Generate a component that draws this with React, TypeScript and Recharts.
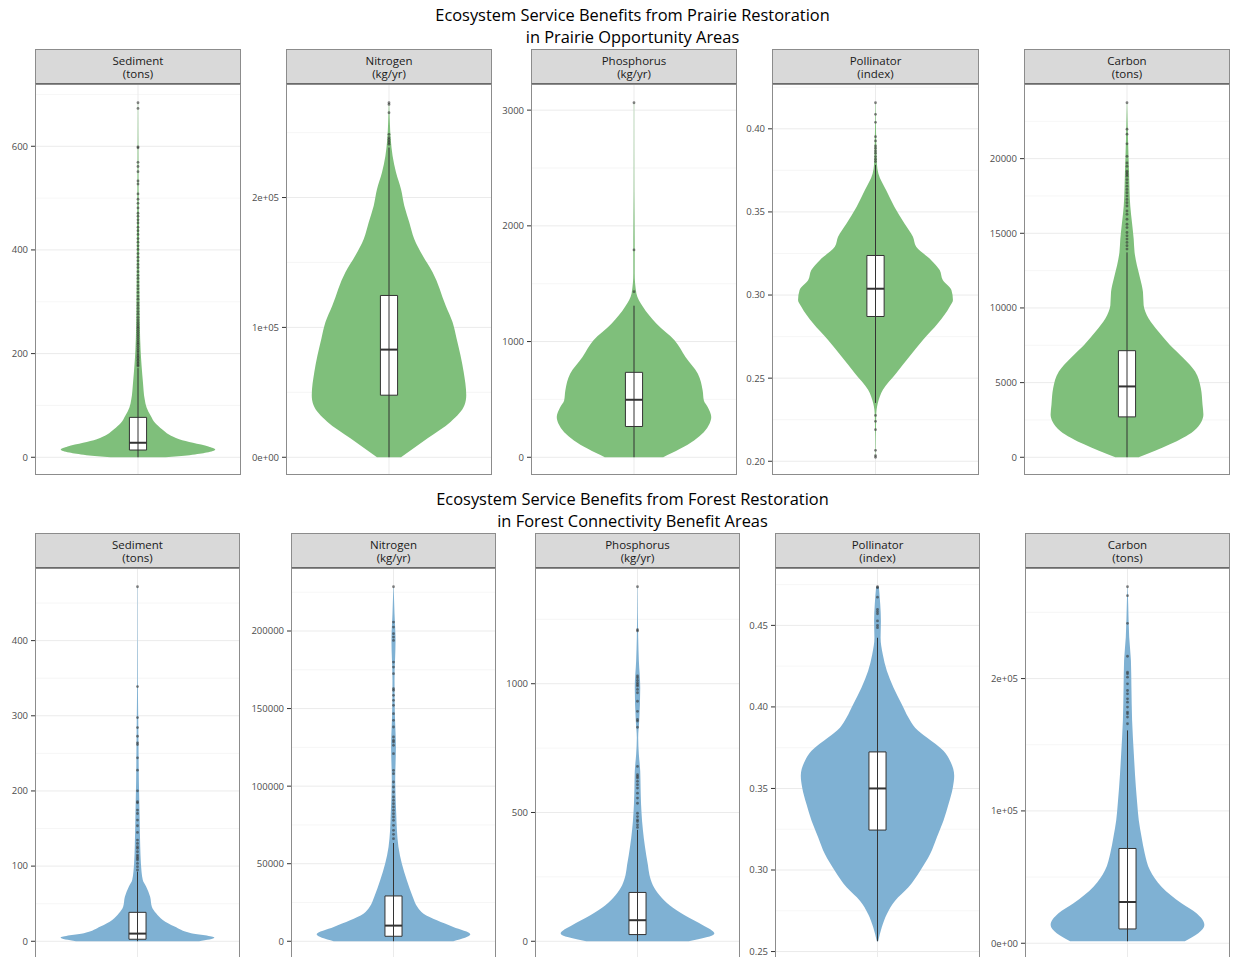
import {
  ComposedChart,
  Area,
  XAxis,
  YAxis,
  CartesianGrid,
  ReferenceArea,
  ReferenceLine,
  ReferenceDot,
} from "recharts";

const FONT = "'Open Sans', 'Noto Sans', sans-serif";
const GREEN = "#7FBF7B";
const BLUE = "#7FB1D3";

const metricNames = ["Sediment", "Nitrogen", "Phosphorus", "Pollinator", "Carbon"];
const metricUnits = ["(tons)", "(kg/yr)", "(kg/yr)", "(index)", "(tons)"];

// violin outline: [value, half width]; box: [whisker lo, q1, median, q3, whisker hi]

// ---- prairie (top row) ----
const sedimentPrairieViolin = [
  [0, 0.16], [4, 0.3], [9, 0.4], [15, 0.45], [21, 0.41], [28, 0.32], [35, 0.24], [44, 0.18],
  [54, 0.14], [66, 0.1], [80, 0.074], [96, 0.05], [112, 0.039], [144, 0.029], [176, 0.021],
  [208, 0.015], [250, 0.011], [304, 0.009], [360, 0.007], [433, 0.006], [497, 0.004],
  [560, 0.003], [620, 0.002], [684, 0.001],
];
const sedimentPrairieBox = [0, 14, 28, 77, 172];
const sedimentPrairieOutliers = [
  176, 178, 181, 184, 187, 190, 193, 196, 199, 203, 206, 210, 214, 218, 221, 225, 229, 233, 237,
  241, 245, 249, 252, 256, 260, 265, 270, 276, 281, 287, 293, 298, 305, 311, 318, 325, 331, 338,
  345, 351, 358, 366, 372, 379, 386, 393, 401, 408, 415, 422, 430, 437, 444, 452, 458, 465, 471,
  481, 490, 498, 508, 527, 533, 551, 561, 569, 597, 599, 673, 684,
];
const sedimentPrairieTicks = [0, 200, 400, 600];
const sedimentPrairieMinor = [100, 300, 500, 700];

const nitrogenPrairieViolin = [
  [0, 0.07], [14600, 0.225], [27400, 0.36], [40200, 0.44], [47800, 0.45], [65700, 0.435],
  [91300, 0.394], [104100, 0.37], [116900, 0.33], [142500, 0.254], [155300, 0.196],
  [168100, 0.147], [180900, 0.118], [193700, 0.089], [206400, 0.07], [219200, 0.041],
  [232000, 0.021], [244800, 0.01], [257600, 0.005], [273000, 0.001],
];
const nitrogenPrairieBox = [0, 47800, 82900, 124600, 238500];
const nitrogenPrairieOutliers = [241000, 242200, 243500, 244800, 246100, 248700, 265300, 271700, 273000];
const nitrogenPrairieTicks = [0, 100000, 200000];
const nitrogenPrairieMinor = [50000, 150000, 250000];

const phosphorusPrairieViolin = [
  [0, 0.17], [144, 0.35], [289, 0.44], [347, 0.45], [433, 0.43], [491, 0.407], [578, 0.4],
  [722, 0.372], [867, 0.3], [1011, 0.236], [1156, 0.13], [1300, 0.052], [1416, 0.014],
  [1590, 0.004], [1880, 0.004], [2300, 0.002], [3064, 0.001],
];
const phosphorusPrairieBox = [0, 266, 497, 734, 1310];
const phosphorusPrairieOutliers = [1431, 1792, 3064];
const phosphorusPrairieTicks = [0, 1000, 2000, 3000];
const phosphorusPrairieMinor = [500, 1500, 2500];

const pollinatorPrairieViolin = [
  [0.2024, 0.001], [0.2274, 0.004], [0.235, 0.0135], [0.243, 0.043], [0.253, 0.12],
  [0.263, 0.197], [0.273, 0.275], [0.283, 0.362], [0.293, 0.43], [0.297, 0.449], [0.303, 0.44],
  [0.309, 0.39], [0.315, 0.372], [0.321, 0.323], [0.329, 0.236], [0.335, 0.217], [0.343, 0.168],
  [0.353, 0.11], [0.363, 0.062], [0.373, 0.017], [0.379, 0.008], [0.393, 0.004], [0.4157, 0.001],
];
const pollinatorPrairieBox = [0.2351, 0.2871, 0.3038, 0.3238, 0.3783];
const pollinatorPrairieOutliers = [
  0.2024, 0.2034, 0.2066, 0.219, 0.224, 0.2276, 0.3803, 0.3817, 0.3833, 0.3853, 0.3867, 0.3883,
  0.3897, 0.3927, 0.3953, 0.4039, 0.4087, 0.4157,
];
const pollinatorPrairieTicks = [0.2, 0.25, 0.3, 0.35, 0.4];
const pollinatorPrairieMinor = [0.225, 0.275, 0.325, 0.375, 0.425];

const carbonPrairieViolin = [
  [0, 0.068], [865, 0.25], [1750, 0.387], [2416, 0.435], [2860, 0.445], [3525, 0.44],
  [4633, 0.43], [5742, 0.397], [6629, 0.329], [7516, 0.25], [8403, 0.184], [9290, 0.126],
  [10176, 0.097], [11063, 0.093], [11950, 0.077], [12837, 0.058], [13723, 0.044], [14610, 0.039],
  [15718, 0.029], [16827, 0.019], [19044, 0.012], [21260, 0.006], [23744, 0.001],
];
const carbonPrairieBox = [0, 2705, 4744, 7139, 13723];
const carbonPrairieOutliers = [
  13945, 14167, 14388, 14610, 14832, 15053, 15386, 15607, 15940, 16273, 16494, 16827, 17049,
  17270, 17492, 17714, 17935, 18157, 18379, 18600, 18822, 18933, 19044, 19155, 19488, 19709,
  20153, 20995, 21638, 21970, 23744,
];
const carbonPrairieTicks = [0, 5000, 10000, 15000, 20000];
const carbonPrairieMinor = [2500, 7500, 12500, 17500, 22500];

// ---- forest (bottom row) ----
const sedimentForestViolin = [
  [0, 0.36], [5, 0.45], [10.6, 0.314], [19.5, 0.217], [28.3, 0.148], [37.2, 0.109], [46, 0.084],
  [59.3, 0.074], [72.6, 0.051], [81.5, 0.031], [103.6, 0.02], [125.8, 0.016], [170, 0.012],
  [214, 0.008], [258.6, 0.006], [302.9, 0.004], [347, 0.002], [471.7, 0.001],
];
const sedimentForestBox = [0, 2.7, 10.2, 38.5, 92.6];
const sedimentForestOutliers = [
  94.8, 99.2, 103.6, 108.1, 110.3, 112.5, 114.7, 119.1, 123.6, 125.8, 130.2, 134.6, 144.8, 153.7,
  161.2, 170, 174.5, 184.2, 185.6, 200.2, 227.6, 244, 261.7, 264, 272.8, 284.3, 297.6, 338.8, 471.7,
];
const sedimentForestTicks = [0, 100, 200, 300, 400];
const sedimentForestMinor = [50, 150, 250, 350, 450];

const nitrogenForestViolin = [
  [0, 0.35], [4500, 0.45], [9200, 0.35], [13500, 0.254], [17800, 0.176], [22100, 0.14],
  [28600, 0.113], [39300, 0.078], [50000, 0.049], [60800, 0.029], [71500, 0.02], [82300, 0.016],
  [103700, 0.01], [125200, 0.014], [146700, 0.008], [168200, 0.006], [194000, 0.012],
  [211000, 0.006], [228500, 0.001],
];
const nitrogenForestBox = [0, 3222, 10096, 29213, 63366];
const nitrogenForestOutliers = [
  66158, 68950, 71528, 74750, 77972, 80120, 82268, 84416, 86564, 88712, 90860, 93008, 96230,
  99452, 102674, 108044, 110192, 120932, 126302, 128450, 129524, 131672, 138116, 142412, 146708,
  152078, 155300, 158522, 161744, 162818, 172484, 176780, 180002, 193964, 196112, 198260, 202556,
  205778, 228547,
];
const nitrogenForestTicks = [0, 50000, 100000, 150000, 200000];
const nitrogenForestMinor = [25000, 75000, 125000, 175000, 225000];

const phosphorusForestViolin = [
  [0, 0.3], [30, 0.45], [62, 0.383], [101, 0.276], [140, 0.188], [179, 0.129], [218, 0.09],
  [257, 0.07], [296, 0.061], [335, 0.051], [400, 0.037], [465, 0.027], [530, 0.021], [595, 0.018],
  [660, 0.016], [725, 0.008], [790, 0.004], [855, 0.01], [984, 0.016], [1088, 0.008],
  [1179, 0.004], [1376.6, 0.001],
];
const phosphorusForestBox = [0, 26, 81.8, 189.6, 432.5];
const phosphorusForestOutliers = [
  442, 452, 465, 471, 484, 497, 536, 556, 575, 595, 608, 621, 634, 640, 647, 679, 831, 855, 861,
  893, 932, 965, 978, 991, 997, 1004, 1013, 1023, 1030, 1205, 1210, 1376.6,
];
const phosphorusForestTicks = [0, 500, 1000];
const phosphorusForestMinor = [250, 750, 1250];

const pollinatorForestViolin = [
  [0.2563, 0.004], [0.2649, 0.025], [0.2731, 0.055], [0.2812, 0.103], [0.2894, 0.181],
  [0.2996, 0.25], [0.3098, 0.308], [0.32, 0.347], [0.3302, 0.386], [0.3404, 0.416],
  [0.3506, 0.441], [0.3578, 0.449], [0.3669, 0.425], [0.3731, 0.386], [0.3812, 0.289],
  [0.3873, 0.22], [0.3935, 0.181], [0.4016, 0.142], [0.4118, 0.094], [0.422, 0.055],
  [0.4322, 0.031], [0.4424, 0.018], [0.4527, 0.02], [0.4629, 0.016], [0.4737, 0.008],
];
const pollinatorForestBox = [0.2563, 0.3245, 0.35, 0.3724, 0.4424];
const pollinatorForestOutliers = [0.4486, 0.45, 0.4527, 0.4571, 0.4584, 0.4598, 0.4673, 0.4731, 0.4737];
const pollinatorForestTicks = [0.25, 0.3, 0.35, 0.4, 0.45];
const pollinatorForestMinor = [0.275, 0.325, 0.375, 0.425, 0.475];

const carbonForestViolin = [
  [1500, 0.336], [13800, 0.45], [22600, 0.404], [30200, 0.316], [42700, 0.199], [55300, 0.131],
  [67900, 0.101], [80400, 0.082], [93000, 0.066], [105500, 0.057], [118100, 0.049],
  [143200, 0.037], [168400, 0.027], [193500, 0.023], [213600, 0.02], [231200, 0.01],
  [256300, 0.004], [269390, 0.001],
];
const carbonForestBox = [1500, 10810, 31160, 71620, 160830];
const carbonForestOutliers = [
  165860, 170880, 173400, 174650, 178420, 182190, 184700, 188470, 190990, 196010, 201040, 203550,
  204810, 216870, 241750, 262600, 269390,
];
const carbonForestTicks = [0, 100000, 200000];
const carbonForestMinor = [50000, 150000, 250000];

// layout
const AXIS_W = 60;
const STRIP_H = 36;
const BODY_H = 390;

const plain = (v: number) => String(v);
const fixed2 = (v: number) => v.toFixed(2);
const sci = (v: number) => {
  if (v === 0) return "0e+00";
  const e = Math.floor(Math.log10(Math.abs(v)));
  const m = v / Math.pow(10, e);
  return `${m}e+${String(e).padStart(2, "0")}`;
};

type PanelProps = {
  left: number;
  top: number;
  width: number;
  name: string;
  unit: string;
  violin: number[][];
  box: number[];
  outliers: number[];
  ticks: number[];
  minor: number[];
  fmt: (v: number) => string;
  color: string;
};

function ViolinPanel(p: PanelProps) {
  const vals = [...p.violin.map((d) => d[0]), ...p.outliers];
  const lo = Math.min(...vals);
  const hi = Math.max(...vals);
  const pad = (hi - lo) * 0.05;
  const domain = [lo - pad, hi + pad];
  const data = p.violin.map(([y, w]) => ({ y, band: [-w, w] }));
  const bw = 0.05;

  return (
    <>
      <div
        style={{
          position: "absolute",
          left: p.left,
          top: p.top,
          width: p.width,
          height: STRIP_H,
          boxSizing: "border-box",
          background: "#D9D9D9",
          border: "1px solid #8c8c8c",
          borderBottom: "2px solid #6a6a6a",
          display: "flex",
          flexDirection: "column",
          justifyContent: "center",
          alignItems: "center",
          fontSize: 11.5,
          lineHeight: "14px",
          color: "#1A1A1A",
        }}
      >
        <div style={{ height: 13 }}>{p.name}</div>
        <div style={{ height: 13 }}>{p.unit}</div>
      </div>
      <div
        style={{
          position: "absolute",
          left: p.left - AXIS_W,
          top: p.top + STRIP_H,
          width: p.width + AXIS_W,
          height: BODY_H,
        }}
      >
        <ComposedChart
          layout="vertical"
          width={p.width + AXIS_W}
          height={BODY_H}
          data={data}
          margin={{ top: 0, right: 0, bottom: 0, left: 0 }}
        >
          <CartesianGrid horizontalValues={p.minor} vertical={false} stroke="#F0F0F0" strokeWidth={0.6} />
          <CartesianGrid horizontalValues={p.ticks} verticalValues={[0]} stroke="#EBEBEB" strokeWidth={1} />
          <XAxis type="number" domain={[-0.6, 0.6]} allowDataOverflow hide />
          <YAxis
            type="number"
            dataKey="y"
            domain={domain}
            allowDataOverflow
            reversed
            ticks={p.ticks}
            interval={0}
            tickFormatter={p.fmt}
            width={AXIS_W}
            axisLine={false}
            tickSize={4}
            tickMargin={3}
            tickLine={{ stroke: "#333" }}
            tick={{ fill: "#4D4D4D", fontSize: 9.5, fontFamily: FONT }}
          />
          <Area
            dataKey="band"
            type="monotone"
            fill={p.color}
            fillOpacity={1}
            stroke="none"
            dot={false}
            activeDot={false}
            isAnimationActive={false}
          />
          <ReferenceLine
            segment={[{ x: 0, y: p.box[0] }, { x: 0, y: p.box[4] }]}
            stroke="#333"
            strokeWidth={1}
          />
          <ReferenceArea
            x1={-bw}
            x2={bw}
            y1={p.box[1]}
            y2={p.box[3]}
            fill="#FFFFFF"
            fillOpacity={1}
            stroke="#333"
            strokeWidth={1}
          />
          <ReferenceLine
            segment={[{ x: -bw, y: p.box[2] }, { x: bw, y: p.box[2] }]}
            stroke="#333"
            strokeWidth={2}
          />
          {p.outliers.map((v, i) => (
            <ReferenceDot key={i} x={0} y={v} r={1.4} fill="#333" fillOpacity={0.6} stroke="none" />
          ))}
        </ComposedChart>
      </div>
      <div
        style={{
          position: "absolute",
          left: p.left,
          top: p.top + STRIP_H - 1,
          width: p.width,
          height: BODY_H + 1,
          boxSizing: "border-box",
          border: "1px solid #8c8c8c",
          pointerEvents: "none",
        }}
      />
    </>
  );
}

const topLefts = [35, 286, 531, 772, 1024];
const topWidths = [206, 206, 206, 207, 206];
const bottomLefts = [35, 291, 535, 775, 1025];
const bottomWidths = [205, 205, 205, 205, 205];

const prairie = [
  { violin: sedimentPrairieViolin, box: sedimentPrairieBox, outliers: sedimentPrairieOutliers, ticks: sedimentPrairieTicks, minor: sedimentPrairieMinor, fmt: plain },
  { violin: nitrogenPrairieViolin, box: nitrogenPrairieBox, outliers: nitrogenPrairieOutliers, ticks: nitrogenPrairieTicks, minor: nitrogenPrairieMinor, fmt: sci },
  { violin: phosphorusPrairieViolin, box: phosphorusPrairieBox, outliers: phosphorusPrairieOutliers, ticks: phosphorusPrairieTicks, minor: phosphorusPrairieMinor, fmt: plain },
  { violin: pollinatorPrairieViolin, box: pollinatorPrairieBox, outliers: pollinatorPrairieOutliers, ticks: pollinatorPrairieTicks, minor: pollinatorPrairieMinor, fmt: fixed2 },
  { violin: carbonPrairieViolin, box: carbonPrairieBox, outliers: carbonPrairieOutliers, ticks: carbonPrairieTicks, minor: carbonPrairieMinor, fmt: plain },
];

const forest = [
  { violin: sedimentForestViolin, box: sedimentForestBox, outliers: sedimentForestOutliers, ticks: sedimentForestTicks, minor: sedimentForestMinor, fmt: plain },
  { violin: nitrogenForestViolin, box: nitrogenForestBox, outliers: nitrogenForestOutliers, ticks: nitrogenForestTicks, minor: nitrogenForestMinor, fmt: plain },
  { violin: phosphorusForestViolin, box: phosphorusForestBox, outliers: phosphorusForestOutliers, ticks: phosphorusForestTicks, minor: phosphorusForestMinor, fmt: plain },
  { violin: pollinatorForestViolin, box: pollinatorForestBox, outliers: pollinatorForestOutliers, ticks: pollinatorForestTicks, minor: pollinatorForestMinor, fmt: fixed2 },
  { violin: carbonForestViolin, box: carbonForestBox, outliers: carbonForestOutliers, ticks: carbonForestTicks, minor: carbonForestMinor, fmt: sci },
];

function Title({ top, lines }: { top: number; lines: string[] }) {
  return (
    <div
      style={{
        position: "absolute",
        left: 35,
        width: 1195,
        top,
        textAlign: "center",
        fontSize: 16.4,
        lineHeight: "22.6px",
        color: "#000",
      }}
    >
      {lines.map((l) => (
        <div key={l} style={{ height: 22.6 }}>{l}</div>
      ))}
    </div>
  );
}

export default function App() {
  return (
    <div
      style={{
        position: "absolute",
        left: 0,
        top: 0,
        width: 1233,
        height: 957,
        overflow: "hidden",
        background: "#fff",
        fontFamily: FONT,
      }}
    >
      <Title
        top={3.5}
        lines={["Ecosystem Service Benefits from Prairie Restoration", "in Prairie Opportunity Areas"]}
      />
      {prairie.map((d, i) => (
        <ViolinPanel
          key={`p${i}`}
          left={topLefts[i]}
          top={49}
          width={topWidths[i]}
          name={metricNames[i]}
          unit={metricUnits[i]}
          color={GREEN}
          {...d}
        />
      ))}
      <Title
        top={487.5}
        lines={["Ecosystem Service Benefits from Forest Restoration", "in Forest Connectivity Benefit Areas"]}
      />
      {forest.map((d, i) => (
        <ViolinPanel
          key={`f${i}`}
          left={bottomLefts[i]}
          top={533}
          width={bottomWidths[i]}
          name={metricNames[i]}
          unit={metricUnits[i]}
          color={BLUE}
          {...d}
        />
      ))}
    </div>
  );
}
